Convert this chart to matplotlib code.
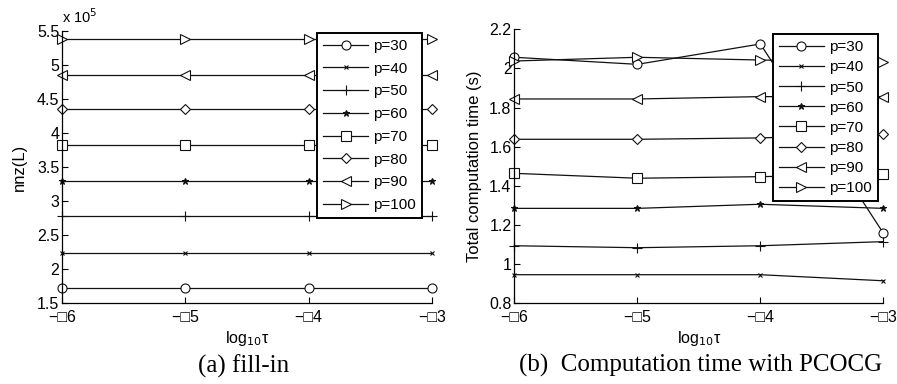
import matplotlib
matplotlib.use("Agg")
import matplotlib.pyplot as plt
from matplotlib.ticker import FuncFormatter

plt.rcParams['font.family'] = ['Liberation Sans', 'DejaVu Sans']

log_tau = [-6, -5, -4, -3]
xtick_labels = ["\u2212\u25a16", "\u2212\u25a15", "\u2212\u25a14", "\u2212\u25a13"]
labels = ["p=30", "p=40", "p=50", "p=60", "p=70", "p=80", "p=90", "p=100"]
markers = ["o", "x", "+", "*", "s", "D", "<", ">"]
msizes = [6.5, 3.5, 7, 5, 6.5, 5, 7, 7]

# nnz(L)
nnz_p30 = [172000, 172000, 172000, 172000]
nnz_p40 = [224000, 224000, 224000, 224000]
nnz_p50 = [278000, 278000, 278000, 278000]
nnz_p60 = [330000, 330000, 330000, 330000]
nnz_p70 = [383000, 383000, 383000, 383000]
nnz_p80 = [435000, 435000, 435000, 435000]
nnz_p90 = [486000, 486000, 486000, 486000]
nnz_p100 = [539000, 539000, 539000, 539000]

# total computation time (s)
time_p30 = [2.057, 2.021, 2.125, 1.158]
time_p40 = [0.946, 0.946, 0.946, 0.915]
time_p50 = [1.094, 1.084, 1.094, 1.115]
time_p60 = [1.285, 1.285, 1.306, 1.285]
time_p70 = [1.464, 1.439, 1.447, 1.459]
time_p80 = [1.638, 1.638, 1.645, 1.665]
time_p90 = [1.844, 1.844, 1.856, 1.856]
time_p100 = [2.038, 2.057, 2.043, 2.033]

nnz_series = [nnz_p30, nnz_p40, nnz_p50, nnz_p60, nnz_p70, nnz_p80, nnz_p90, nnz_p100]
time_series = [time_p30, time_p40, time_p50, time_p60, time_p70, time_p80, time_p90, time_p100]

fig = plt.figure(figsize=(8.97, 3.84), dpi=100)
ax1 = fig.add_axes([0.0691, 0.2109, 0.4125, 0.7083])
ax2 = fig.add_axes([0.5734, 0.2102, 0.4114, 0.7135])

line_color = "#111111"
FS = 11.5

def style(ax):
    for s in ["top", "right"]:
        ax.spines[s].set_visible(False)
    for s in ["left", "bottom"]:
        ax.spines[s].set_linewidth(0.9)
    ax.tick_params(direction="in", length=4, width=0.8, labelsize=FS, pad=2)
    ax.tick_params(axis="x", pad=5)
    ax.set_xlim(-6, -3)
    ax.set_xticks(log_tau)
    ax.set_xticklabels(xtick_labels)
    ax.set_xlabel("log$_{10}$\u03c4", fontsize=FS, labelpad=3)

for ax, series in [(ax1, nnz_series), (ax2, time_series)]:
    for ys, lab, m, ms in zip(series, labels, markers, msizes):
        ax.plot(log_tau, ys, color=line_color, lw=0.9, marker=m, ms=ms,
                mfc="white" if m not in ("x", "+", "*") else line_color,
                mec=line_color, mew=0.8, label=lab, clip_on=False)
    style(ax)

ax1.set_ylim(150000, 550000)
ax1.set_yticks([150000, 200000, 250000, 300000, 350000, 400000, 450000, 500000, 550000])
ax1.yaxis.set_major_formatter(FuncFormatter(lambda v, _: f"{v/1e5:g}"))
ax1.set_ylabel("nnz(L)", fontsize=12, labelpad=7)
ax1.text(0.0, 1.02, r"x 10$^5$", transform=ax1.transAxes, fontsize=10.5, ha="left", va="bottom")

ax2.set_ylim(0.8, 2.2)
ax2.set_yticks([0.8, 1.0, 1.2, 1.4, 1.6, 1.8, 2.0, 2.2])
ax2.yaxis.set_major_formatter(FuncFormatter(lambda v, _: f"{v:g}"))
ax2.set_ylabel("Total computation time (s)", fontsize=12, labelpad=5)

for ax, anchor, lsp in [(ax1, (0.973, 0.993), 0.57), (ax2, (0.985, 0.982), 0.40)]:
    leg = ax.legend(loc="upper right", bbox_to_anchor=anchor, fancybox=False,
                    framealpha=1, edgecolor="black", fontsize=11, handlelength=2.9,
                    labelspacing=lsp, borderpad=0.4, handletextpad=0.35,
                    borderaxespad=0)
    leg.get_frame().set_linewidth(1.4)
    leg.set_zorder(10)

fig.text(0.271, 0.046, "(a) fill-in", family="Liberation Serif", fontsize=18, ha="center", va="center")
fig.text(0.781, 0.049, "(b)  Computation time with PCOCG", family="Liberation Serif", fontsize=18, ha="center", va="center")

fig.savefig("out.png", dpi=100)
